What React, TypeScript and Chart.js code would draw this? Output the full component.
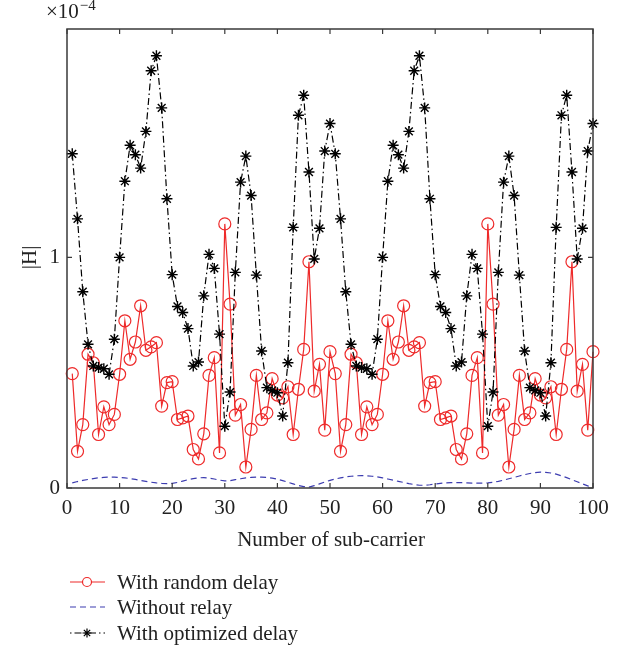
import React, { useEffect, useRef } from "react";
import { Chart, registerables } from "chart.js";

Chart.register(...registerables);

// Sub-carrier index 1..100
const subCarriers: number[] = Array.from({ length: 100 }, (_, i) => i + 1);

// |H| values in units of 1e-4
const randomDelay: number[] = [
  0.496, 0.159, 0.275, 0.580, 0.543, 0.232, 0.352, 0.275, 0.319, 0.493,
  0.725, 0.558, 0.633, 0.790, 0.597, 0.612, 0.630, 0.355, 0.457, 0.461,
  0.297, 0.304, 0.312, 0.167, 0.126, 0.235, 0.488, 0.565, 0.152, 1.145,
  0.797, 0.316, 0.362, 0.091, 0.254, 0.488, 0.297, 0.326, 0.474, 0.403,
  0.391, 0.439, 0.232, 0.428, 0.601, 0.981, 0.420, 0.536, 0.251, 0.591,
  0.496, 0.159, 0.275, 0.580, 0.543, 0.232, 0.352, 0.275, 0.319, 0.493,
  0.725, 0.558, 0.633, 0.790, 0.597, 0.612, 0.630, 0.355, 0.457, 0.461,
  0.297, 0.304, 0.312, 0.167, 0.126, 0.235, 0.488, 0.565, 0.152, 1.145,
  0.797, 0.316, 0.362, 0.091, 0.254, 0.488, 0.297, 0.326, 0.474, 0.403,
  0.391, 0.439, 0.232, 0.428, 0.601, 0.981, 0.420, 0.536, 0.251, 0.591,
];

const withoutRelay: number[] = [
  0.022, 0.028, 0.033, 0.037, 0.041, 0.044, 0.046, 0.047, 0.047, 0.046,
  0.044, 0.041, 0.037, 0.033, 0.029, 0.025, 0.022, 0.020, 0.019, 0.020,
  0.024, 0.030, 0.036, 0.041, 0.044, 0.045, 0.043, 0.039, 0.034, 0.031,
  0.032, 0.036, 0.040, 0.044, 0.046, 0.047, 0.047, 0.046, 0.043, 0.038,
  0.032, 0.025, 0.018, 0.011, 0.006, 0.004, 0.010, 0.018, 0.026, 0.033,
  0.039, 0.044, 0.048, 0.051, 0.053, 0.054, 0.053, 0.051, 0.048, 0.044,
  0.039, 0.034, 0.029, 0.024, 0.019, 0.015, 0.012, 0.012, 0.014, 0.017,
  0.020, 0.022, 0.023, 0.023, 0.023, 0.022, 0.021, 0.021, 0.021, 0.022,
  0.025, 0.029, 0.034, 0.040, 0.046, 0.052, 0.058, 0.063, 0.067, 0.069,
  0.068, 0.065, 0.060, 0.053, 0.045, 0.036, 0.027, 0.018, 0.009, 0.003,
];

const optimizedDelay: number[] = [
  1.449, 1.167, 0.851, 0.623, 0.529, 0.522, 0.517, 0.493, 0.645, 1.000,
  1.330, 1.486, 1.445, 1.387, 1.546, 1.809, 1.874, 1.648, 1.254, 0.925,
  0.787, 0.761, 0.691, 0.529, 0.546, 0.833, 1.013, 0.952, 0.667, 0.268,
  0.416, 0.935, 1.326, 1.439, 1.268, 0.923, 0.594, 0.435, 0.423, 0.413,
  0.312, 0.543, 1.130, 1.616, 1.703, 1.370, 0.993, 1.126, 1.461, 1.580,
  1.449, 1.167, 0.851, 0.623, 0.529, 0.522, 0.517, 0.493, 0.645, 1.000,
  1.330, 1.486, 1.445, 1.387, 1.546, 1.809, 1.874, 1.648, 1.254, 0.925,
  0.787, 0.761, 0.691, 0.529, 0.546, 0.833, 1.013, 0.952, 0.667, 0.268,
  0.416, 0.935, 1.326, 1.439, 1.268, 0.923, 0.594, 0.435, 0.423, 0.413,
  0.312, 0.543, 1.130, 1.616, 1.703, 1.370, 0.993, 1.126, 1.461, 1.580,
];

const xTicks: number[] = [0, 10, 20, 30, 40, 50, 60, 70, 80, 90, 100];
const yTicks: number[] = [0, 1];

const seriesLabels = ["With random delay", "Without relay", "With optimized delay"];

const FONT = "'Liberation Serif', 'Times New Roman', serif";
const FS = 21;
const TEXT = "#222";
const AXIS = "#3a3a3a";
const RED = "#ee2a2a";
const BLUE = "#3c3cb0";
const BLACK = "#000";
const DASH_DOT = [7, 3, 1.5, 3];
const DASHED = [6, 4];

const toPoints = (ys: number[]) => ys.map((y, i) => ({ x: subCarriers[i], y }));

// Box, inward ticks, axis titles, exponent and legend
const decorations = {
  id: "decorations",
  afterDatasetsDraw(chart: any) {
    const { ctx, chartArea } = chart;
    const { left, right, top, bottom } = chartArea;
    const xs = chart.scales.x;
    const ys = chart.scales.y;
    ctx.save();
    ctx.strokeStyle = AXIS;
    ctx.lineWidth = 1.5;
    ctx.setLineDash([]);
    ctx.strokeRect(left, top, right - left, bottom - top);
    ctx.lineWidth = 1.2;
    const len = 5;
    ctx.beginPath();
    xTicks.forEach((v) => {
      const px = xs.getPixelForValue(v);
      ctx.moveTo(px, bottom);
      ctx.lineTo(px, bottom - len);
      ctx.moveTo(px, top);
      ctx.lineTo(px, top + len);
    });
    yTicks.forEach((v) => {
      const py = ys.getPixelForValue(v);
      ctx.moveTo(left, py);
      ctx.lineTo(left + len, py);
      ctx.moveTo(right, py);
      ctx.lineTo(right - len, py);
    });
    ctx.stroke();
    ctx.restore();
  },
  afterDraw(chart: any) {
    const { ctx, chartArea } = chart;
    const { left, right } = chartArea;
    ctx.save();
    ctx.fillStyle = TEXT;

    // x-axis title
    ctx.font = `${FS}px ${FONT}`;
    ctx.textAlign = "center";
    ctx.textBaseline = "middle";
    ctx.fillText("Number of sub-carrier", (left + right) / 2 + 1, 540);

    // y-axis title
    ctx.save();
    ctx.translate(30, chart.scales.y.getPixelForValue(1));
    ctx.rotate(-Math.PI / 2);
    ctx.fillText("|H|", 0, 0);
    ctx.restore();

    // exponent
    ctx.textAlign = "left";
    ctx.textBaseline = "alphabetic";
    ctx.font = `${FS}px ${FONT}`;
    ctx.fillText("\u00d710", 46, 18);
    const w = ctx.measureText("\u00d710").width;
    ctx.font = `15px ${FONT}`;
    ctx.fillText("\u22124", 46 + w + 1, 10);

    // legend
    const rows = [582, 607, 633];
    const x0 = 70;
    const x1 = 105;
    const xm = 87;
    const textX = 117;

    // random delay
    ctx.strokeStyle = RED;
    ctx.lineWidth = 1.2;
    ctx.setLineDash([]);
    ctx.beginPath();
    ctx.moveTo(x0, rows[0]);
    ctx.lineTo(x1, rows[0]);
    ctx.stroke();
    ctx.fillStyle = "#fff";
    ctx.beginPath();
    ctx.arc(xm, rows[0], 4.5, 0, Math.PI * 2);
    ctx.fill();
    ctx.stroke();

    // without relay
    ctx.strokeStyle = BLUE;
    ctx.setLineDash(DASHED);
    ctx.beginPath();
    ctx.moveTo(x0, rows[1]);
    ctx.lineTo(x1, rows[1]);
    ctx.stroke();

    // optimized delay
    ctx.strokeStyle = BLACK;
    ctx.setLineDash([1.5, 3, 7, 3]);
    ctx.beginPath();
    ctx.moveTo(x0, rows[2]);
    ctx.lineTo(x1, rows[2]);
    ctx.stroke();
    ctx.setLineDash([]);
    const r = 4.5;
    ctx.beginPath();
    for (let k = 0; k < 4; k++) {
      const a = (k * Math.PI) / 4;
      ctx.moveTo(xm - r * Math.cos(a), rows[2] - r * Math.sin(a));
      ctx.lineTo(xm + r * Math.cos(a), rows[2] + r * Math.sin(a));
    }
    ctx.stroke();

    ctx.fillStyle = TEXT;
    ctx.font = `${FS}px ${FONT}`;
    ctx.textAlign = "left";
    ctx.textBaseline = "middle";
    seriesLabels.forEach((s, i) => ctx.fillText(s, textX, rows[i] + 1));

    ctx.restore();
  },
};

export default function App() {
  const canvasRef = useRef<HTMLCanvasElement | null>(null);

  useEffect(() => {
    const canvas = canvasRef.current;
    if (!canvas) return;
    const chart = new Chart(canvas, {
      type: "line",
      data: {
        datasets: [
          {
            label: seriesLabels[2],
            data: toPoints(optimizedDelay),
            borderColor: BLACK,
            borderWidth: 1.2,
            borderDash: DASH_DOT,
            pointStyle: "star",
            pointRadius: 5.5,
            pointBorderColor: BLACK,
            pointBorderWidth: 1.4,
            pointBackgroundColor: BLACK,
            tension: 0,
            clip: 12,
            order: 0,
          },
          {
            label: seriesLabels[1],
            data: toPoints(withoutRelay),
            borderColor: BLUE,
            borderWidth: 1.2,
            borderDash: DASHED,
            pointRadius: 0,
            tension: 0,
            clip: 12,
            order: 1,
          },
          {
            label: seriesLabels[0],
            data: toPoints(randomDelay),
            borderColor: RED,
            borderWidth: 1.2,
            pointStyle: "circle",
            pointRadius: 6,
            pointBorderColor: RED,
            pointBorderWidth: 1.2,
            pointBackgroundColor: "rgba(0,0,0,0)",
            tension: 0,
            clip: 12,
            order: 2,
          },
        ],
      },
      options: {
        responsive: false,
        animation: false,
        devicePixelRatio: 1,
        layout: { padding: { top: 29, right: 38, left: 0, bottom: 0 } },
        plugins: {
          legend: { display: false },
          tooltip: { enabled: false },
        },
        scales: {
          x: {
            type: "linear",
            min: 0,
            max: 100,
            afterBuildTicks: (scale: any) => {
              scale.ticks = xTicks.map((v) => ({ value: v }));
            },
            afterFit: (scale: any) => {
              scale.height = 163;
            },
            grid: { display: false, drawTicks: false },
            border: { display: false },
            ticks: {
              padding: 8,
              color: TEXT,
              font: { family: FONT, size: FS },
              maxRotation: 0,
              autoSkip: false,
            },
          },
          y: {
            type: "linear",
            min: 0,
            max: 1.99,
            afterBuildTicks: (scale: any) => {
              scale.ticks = yTicks.map((v) => ({ value: v }));
            },
            afterFit: (scale: any) => {
              scale.width = 67;
            },
            grid: { display: false, drawTicks: false },
            border: { display: false },
            ticks: {
              padding: 7,
              color: TEXT,
              font: { family: FONT, size: FS },
              callback: (v: any) => String(v),
            },
          },
        },
      },
      plugins: [decorations],
    });
    return () => chart.destroy();
  }, []);

  return (
    <div style={{ position: "absolute", left: 0, top: 0, width: 631, height: 651, background: "#fff" }}>
      <canvas ref={canvasRef} width={631} height={651} style={{ width: 631, height: 651 }} />
    </div>
  );
}
